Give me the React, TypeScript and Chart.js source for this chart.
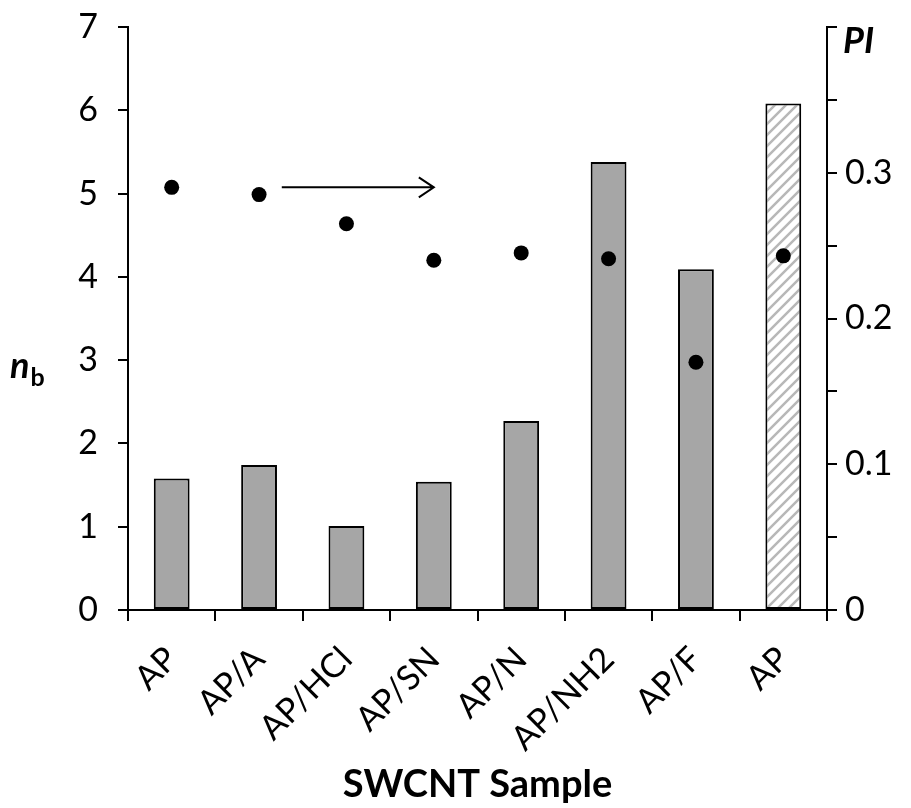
import React, { useEffect, useRef } from "react";
import { Chart, registerables } from "chart.js";

Chart.register(...registerables);

const categories = ["AP", "AP/A", "AP/HCl", "AP/SN", "AP/N", "AP/NH2", "AP/F", "AP"];
const nbValues = [1.58, 1.74, 1.01, 1.54, 2.27, 5.38, 4.09, 6.08];
const piValues = [0.29, 0.285, 0.265, 0.24, 0.245, 0.241, 0.17, 0.243];
const hatchedIndex = [7];
const leftTicksMax = 7;
const rightTicksMax = 0.4;
const arrowFromX = 1.26;
const arrowToX = 3.0;
const arrowPI = 0.29;

const FONT = "Lato, 'Open Sans', sans-serif";

function makeHatch(): CanvasPattern | string {
  const c = document.createElement("canvas");
  const p = 11;
  c.width = p;
  c.height = p;
  const g = c.getContext("2d");
  if (!g) return "#ffffff";
  g.fillStyle = "#ffffff";
  g.fillRect(0, 0, p, p);
  g.strokeStyle = "#b8b8b8";
  g.lineWidth = 2.5;
  g.beginPath();
  g.moveTo(-2, p + 2);
  g.lineTo(p + 2, -2);
  g.moveTo(-2, 2);
  g.lineTo(2, -2);
  g.moveTo(p - 2, p + 2);
  g.lineTo(p + 2, p - 2);
  g.stroke();
  const pat = g.createPattern(c, "repeat");
  return pat || "#ffffff";
}

const annotPlugin = {
  id: "annot",
  afterDraw(chart: any) {
    const { ctx, scales } = chart;
    const xs = scales.x;
    const yr = scales.y1;
    const yl = scales.y;
    ctx.save();
    // arrow
    const x0 = xs.getPixelForValue(arrowFromX);
    const x1 = xs.getPixelForValue(arrowToX);
    const ya = yr.getPixelForValue(arrowPI);
    ctx.strokeStyle = "#000";
    ctx.lineWidth = 2;
    ctx.beginPath();
    ctx.moveTo(x0, ya);
    ctx.lineTo(x1, ya);
    ctx.moveTo(x1 - 15, ya - 10);
    ctx.lineTo(x1, ya);
    ctx.lineTo(x1 - 15, ya + 10);
    ctx.stroke();
    // n_b label
    ctx.fillStyle = "#000";
    ctx.textBaseline = "alphabetic";
    ctx.textAlign = "left";
    const yMid = yl.getPixelForValue(3);
    ctx.font = `italic bold 36px ${FONT}`;
    ctx.fillText("n", 10, yMid + 18);
    const nW = ctx.measureText("n").width;
    ctx.font = `bold 25px ${FONT}`;
    ctx.fillText("b", 10 + nW + 1, yMid + 26);
    // PI label
    ctx.font = `italic bold 36px ${FONT}`;
    ctx.fillText("PI", yr.left + 16, yr.getPixelForValue(rightTicksMax) + 26);
    ctx.restore();
  },
};

const zeroPad = (s: any) => {
  s.paddingTop = 0;
  s.paddingBottom = 0;
};

export default function App() {
  const ref = useRef<HTMLCanvasElement | null>(null);
  useEffect(() => {
    if (!ref.current) return;
    const hatch = makeHatch();
    const barColors = categories.map((_, i) => (hatchedIndex.includes(i) ? hatch : "#a6a6a6"));
    const tickFont = { family: FONT, size: 34 };
    const chart = new Chart(ref.current, {
      type: "bar",
      data: {
        labels: categories,
        datasets: [
          {
            type: "line",
            label: "PI",
            data: piValues,
            yAxisID: "y1",
            showLine: false,
            pointRadius: 7.5,
            pointHoverRadius: 7.5,
            pointBackgroundColor: "#000",
            pointBorderWidth: 0,
            borderColor: "#000",
            backgroundColor: "#000",
            order: 0,
          } as any,
          {
            type: "bar",
            label: "nb",
            data: nbValues,
            yAxisID: "y",
            backgroundColor: barColors as any,
            borderColor: "#000",
            borderWidth: 2,
            borderSkipped: false,
            barPercentage: 0.41,
            categoryPercentage: 1,
            order: 1,
          } as any,
        ],
      },
      options: {
        responsive: false,
        animation: false,
        layout: { padding: { top: 27, left: 0, right: 0, bottom: 0 } },
        plugins: { legend: { display: false }, tooltip: { enabled: false } },
        scales: {
          x: {
            type: "category",
            offset: true,
            grid: { offset: true, drawOnChartArea: false, drawTicks: true, tickLength: 11, color: "#000", lineWidth: 2 },
            border: { color: "#000", width: 2 },
            ticks: { color: "#000", font: tickFont, minRotation: 45, maxRotation: 45, padding: 18, autoSkip: false },
            title: {
              display: true,
              text: "SWCNT Sample",
              color: "#000",
              font: { family: FONT, size: 38, weight: "bold" },
              padding: { top: 0, bottom: 0 },
            },
            afterFit: (s: any) => {
              s.height = 198;
              s.paddingLeft = 0;
              s.paddingRight = 0;
            },
          },
          y: {
            position: "left",
            min: 0,
            max: leftTicksMax,
            grid: { drawOnChartArea: false, tickLength: 10, color: "#000", lineWidth: 2 },
            border: { color: "#000", width: 2 },
            ticks: {
              stepSize: 0.5,
              color: "#000",
              font: tickFont,
              padding: 20,
              callback: (v: any) => (Math.abs(v - Math.round(v)) < 1e-6 ? String(Math.round(v)) : ""),
            },
            afterFit: (s: any) => {
              s.width = 128;
              zeroPad(s);
            },
          },
          y1: {
            position: "right",
            min: 0,
            max: rightTicksMax,
            grid: { drawOnChartArea: false, tickLength: 10, color: "#000", lineWidth: 2 },
            border: { color: "#000", width: 2 },
            ticks: {
              stepSize: 0.05,
              color: "#000",
              font: tickFont,
              padding: 8,
              callback: (v: any) => {
                const r = Math.round(v * 100);
                if (r % 10 !== 0 || r >= 40) return "";
                return r === 0 ? "0" : (r / 100).toFixed(1);
              },
            },
            afterFit: (s: any) => {
              s.width = 84;
              zeroPad(s);
            },
          },
        },
      },
      plugins: [annotPlugin],
    } as any);
    return () => chart.destroy();
  }, []);
  return (
    <div style={{ position: "absolute", left: 0, top: 0, width: 911, height: 808, background: "#fff" }}>
      <canvas ref={ref} width={911} height={808} style={{ display: "block" }} />
    </div>
  );
}
